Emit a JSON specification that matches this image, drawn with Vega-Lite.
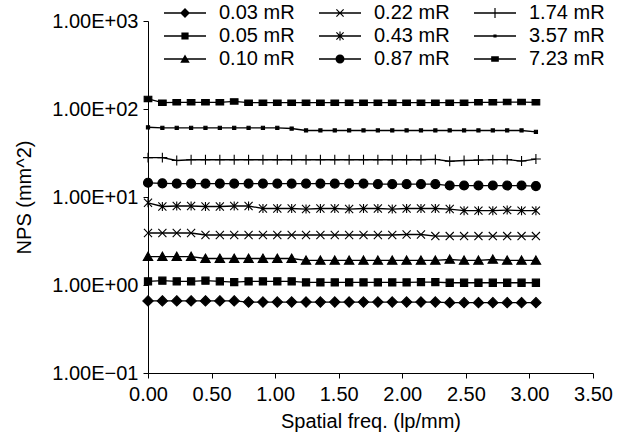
{
  "$schema": "https://vega.github.io/schema/vega-lite/v6.json",
  "width": 445,
  "height": 352,
  "autosize": {"type": "none"},
  "padding": {"left": 148, "top": 21, "right": 25, "bottom": 70},
  "background": "white",
  "config": {
    "view": {"stroke": null},
    "font": "Liberation Sans",
    "axis": {
      "grid": false,
      "domainColor": "black",
      "domainWidth": 1,
      "tickColor": "black",
      "tickWidth": 1,
      "tickSize": 5,
      "labelColor": "black",
      "labelFont": "Liberation Sans",
      "labelFontSize": 20,
      "titleColor": "black",
      "titleFont": "Liberation Sans",
      "titleFontSize": 20,
      "titleFontWeight": "normal",
      "labelFlush": false,
      "labelOverlap": false
    }
  },
  "data": {
    "values": [
      {"s":"0.03 mR","f":0,"v":0.66},{"s":"0.03 mR","f":0.113,"v":0.66},{"s":"0.03 mR","f":0.226,"v":0.66},{"s":"0.03 mR","f":0.339,"v":0.66},{"s":"0.03 mR","f":0.452,"v":0.66},{"s":"0.03 mR","f":0.565,"v":0.66},{"s":"0.03 mR","f":0.678,"v":0.66},{"s":"0.03 mR","f":0.791,"v":0.64},{"s":"0.03 mR","f":0.904,"v":0.64},{"s":"0.03 mR","f":1.017,"v":0.64},{"s":"0.03 mR","f":1.13,"v":0.64},{"s":"0.03 mR","f":1.243,"v":0.64},{"s":"0.03 mR","f":1.356,"v":0.64},{"s":"0.03 mR","f":1.469,"v":0.64},{"s":"0.03 mR","f":1.582,"v":0.64},{"s":"0.03 mR","f":1.695,"v":0.64},{"s":"0.03 mR","f":1.808,"v":0.64},{"s":"0.03 mR","f":1.921,"v":0.64},{"s":"0.03 mR","f":2.034,"v":0.64},{"s":"0.03 mR","f":2.147,"v":0.64},{"s":"0.03 mR","f":2.26,"v":0.64},{"s":"0.03 mR","f":2.373,"v":0.63},{"s":"0.03 mR","f":2.486,"v":0.63},{"s":"0.03 mR","f":2.599,"v":0.63},{"s":"0.03 mR","f":2.712,"v":0.63},{"s":"0.03 mR","f":2.825,"v":0.63},{"s":"0.03 mR","f":2.938,"v":0.63},{"s":"0.03 mR","f":3.051,"v":0.63},
      {"s":"0.05 mR","f":0,"v":1.1},{"s":"0.05 mR","f":0.113,"v":1.12},{"s":"0.05 mR","f":0.226,"v":1.1},{"s":"0.05 mR","f":0.339,"v":1.1},{"s":"0.05 mR","f":0.452,"v":1.12},{"s":"0.05 mR","f":0.565,"v":1.1},{"s":"0.05 mR","f":0.678,"v":1.08},{"s":"0.05 mR","f":0.791,"v":1.1},{"s":"0.05 mR","f":0.904,"v":1.1},{"s":"0.05 mR","f":1.017,"v":1.1},{"s":"0.05 mR","f":1.13,"v":1.1},{"s":"0.05 mR","f":1.243,"v":1.07},{"s":"0.05 mR","f":1.356,"v":1.07},{"s":"0.05 mR","f":1.469,"v":1.07},{"s":"0.05 mR","f":1.582,"v":1.07},{"s":"0.05 mR","f":1.695,"v":1.07},{"s":"0.05 mR","f":1.808,"v":1.07},{"s":"0.05 mR","f":1.921,"v":1.07},{"s":"0.05 mR","f":2.034,"v":1.07},{"s":"0.05 mR","f":2.147,"v":1.08},{"s":"0.05 mR","f":2.26,"v":1.08},{"s":"0.05 mR","f":2.373,"v":1.06},{"s":"0.05 mR","f":2.486,"v":1.06},{"s":"0.05 mR","f":2.599,"v":1.06},{"s":"0.05 mR","f":2.712,"v":1.06},{"s":"0.05 mR","f":2.825,"v":1.06},{"s":"0.05 mR","f":2.938,"v":1.06},{"s":"0.05 mR","f":3.051,"v":1.06},
      {"s":"0.10 mR","f":0,"v":2.1},{"s":"0.10 mR","f":0.113,"v":2.1},{"s":"0.10 mR","f":0.226,"v":2.1},{"s":"0.10 mR","f":0.339,"v":2.1},{"s":"0.10 mR","f":0.452,"v":2.0},{"s":"0.10 mR","f":0.565,"v":2.0},{"s":"0.10 mR","f":0.678,"v":2.0},{"s":"0.10 mR","f":0.791,"v":2.0},{"s":"0.10 mR","f":0.904,"v":2.0},{"s":"0.10 mR","f":1.017,"v":2.0},{"s":"0.10 mR","f":1.13,"v":2.0},{"s":"0.10 mR","f":1.243,"v":1.9},{"s":"0.10 mR","f":1.356,"v":1.9},{"s":"0.10 mR","f":1.469,"v":1.9},{"s":"0.10 mR","f":1.582,"v":1.9},{"s":"0.10 mR","f":1.695,"v":1.9},{"s":"0.10 mR","f":1.808,"v":1.9},{"s":"0.10 mR","f":1.921,"v":1.9},{"s":"0.10 mR","f":2.034,"v":1.9},{"s":"0.10 mR","f":2.147,"v":1.9},{"s":"0.10 mR","f":2.26,"v":1.9},{"s":"0.10 mR","f":2.373,"v":1.95},{"s":"0.10 mR","f":2.486,"v":1.9},{"s":"0.10 mR","f":2.599,"v":1.9},{"s":"0.10 mR","f":2.712,"v":1.95},{"s":"0.10 mR","f":2.825,"v":1.9},{"s":"0.10 mR","f":2.938,"v":1.9},{"s":"0.10 mR","f":3.051,"v":1.9},
      {"s":"0.22 mR","f":0,"v":3.9},{"s":"0.22 mR","f":0.113,"v":3.9},{"s":"0.22 mR","f":0.226,"v":3.9},{"s":"0.22 mR","f":0.339,"v":3.9},{"s":"0.22 mR","f":0.452,"v":3.7},{"s":"0.22 mR","f":0.565,"v":3.7},{"s":"0.22 mR","f":0.678,"v":3.7},{"s":"0.22 mR","f":0.791,"v":3.7},{"s":"0.22 mR","f":0.904,"v":3.7},{"s":"0.22 mR","f":1.017,"v":3.7},{"s":"0.22 mR","f":1.13,"v":3.7},{"s":"0.22 mR","f":1.243,"v":3.7},{"s":"0.22 mR","f":1.356,"v":3.7},{"s":"0.22 mR","f":1.469,"v":3.7},{"s":"0.22 mR","f":1.582,"v":3.7},{"s":"0.22 mR","f":1.695,"v":3.7},{"s":"0.22 mR","f":1.808,"v":3.7},{"s":"0.22 mR","f":1.921,"v":3.7},{"s":"0.22 mR","f":2.034,"v":3.75},{"s":"0.22 mR","f":2.147,"v":3.75},{"s":"0.22 mR","f":2.26,"v":3.6},{"s":"0.22 mR","f":2.373,"v":3.6},{"s":"0.22 mR","f":2.486,"v":3.6},{"s":"0.22 mR","f":2.599,"v":3.6},{"s":"0.22 mR","f":2.712,"v":3.6},{"s":"0.22 mR","f":2.825,"v":3.6},{"s":"0.22 mR","f":2.938,"v":3.6},{"s":"0.22 mR","f":3.051,"v":3.6},
      {"s":"0.43 mR","f":0,"v":8.6},{"s":"0.43 mR","f":0.113,"v":7.8},{"s":"0.43 mR","f":0.226,"v":7.9},{"s":"0.43 mR","f":0.339,"v":7.9},{"s":"0.43 mR","f":0.452,"v":7.8},{"s":"0.43 mR","f":0.565,"v":7.8},{"s":"0.43 mR","f":0.678,"v":7.9},{"s":"0.43 mR","f":0.791,"v":7.9},{"s":"0.43 mR","f":0.904,"v":7.4},{"s":"0.43 mR","f":1.017,"v":7.4},{"s":"0.43 mR","f":1.13,"v":7.4},{"s":"0.43 mR","f":1.243,"v":7.3},{"s":"0.43 mR","f":1.356,"v":7.4},{"s":"0.43 mR","f":1.469,"v":7.4},{"s":"0.43 mR","f":1.582,"v":7.3},{"s":"0.43 mR","f":1.695,"v":7.4},{"s":"0.43 mR","f":1.808,"v":7.4},{"s":"0.43 mR","f":1.921,"v":7.3},{"s":"0.43 mR","f":2.034,"v":7.4},{"s":"0.43 mR","f":2.147,"v":7.4},{"s":"0.43 mR","f":2.26,"v":7.4},{"s":"0.43 mR","f":2.373,"v":7.3},{"s":"0.43 mR","f":2.486,"v":7.0},{"s":"0.43 mR","f":2.599,"v":7.0},{"s":"0.43 mR","f":2.712,"v":7.0},{"s":"0.43 mR","f":2.825,"v":7.1},{"s":"0.43 mR","f":2.938,"v":7.0},{"s":"0.43 mR","f":3.051,"v":7.0},
      {"s":"0.87 mR","f":0,"v":14.5},{"s":"0.87 mR","f":0.113,"v":14.3},{"s":"0.87 mR","f":0.226,"v":14.2},{"s":"0.87 mR","f":0.339,"v":14.2},{"s":"0.87 mR","f":0.452,"v":14.2},{"s":"0.87 mR","f":0.565,"v":14.2},{"s":"0.87 mR","f":0.678,"v":14.2},{"s":"0.87 mR","f":0.791,"v":14.2},{"s":"0.87 mR","f":0.904,"v":14.2},{"s":"0.87 mR","f":1.017,"v":14.2},{"s":"0.87 mR","f":1.13,"v":14.2},{"s":"0.87 mR","f":1.243,"v":14.2},{"s":"0.87 mR","f":1.356,"v":14.2},{"s":"0.87 mR","f":1.469,"v":14.2},{"s":"0.87 mR","f":1.582,"v":14.2},{"s":"0.87 mR","f":1.695,"v":14.2},{"s":"0.87 mR","f":1.808,"v":14.0},{"s":"0.87 mR","f":1.921,"v":14.0},{"s":"0.87 mR","f":2.034,"v":14.0},{"s":"0.87 mR","f":2.147,"v":14.0},{"s":"0.87 mR","f":2.26,"v":14.0},{"s":"0.87 mR","f":2.373,"v":13.5},{"s":"0.87 mR","f":2.486,"v":13.5},{"s":"0.87 mR","f":2.599,"v":13.5},{"s":"0.87 mR","f":2.712,"v":13.5},{"s":"0.87 mR","f":2.825,"v":13.5},{"s":"0.87 mR","f":2.938,"v":13.5},{"s":"0.87 mR","f":3.051,"v":13.3},
      {"s":"1.74 mR","f":0,"v":28.0},{"s":"1.74 mR","f":0.113,"v":28.0},{"s":"1.74 mR","f":0.226,"v":26.0},{"s":"1.74 mR","f":0.339,"v":26.5},{"s":"1.74 mR","f":0.452,"v":26.5},{"s":"1.74 mR","f":0.565,"v":26.5},{"s":"1.74 mR","f":0.678,"v":26.5},{"s":"1.74 mR","f":0.791,"v":26.5},{"s":"1.74 mR","f":0.904,"v":26.5},{"s":"1.74 mR","f":1.017,"v":26.5},{"s":"1.74 mR","f":1.13,"v":26.5},{"s":"1.74 mR","f":1.243,"v":26.5},{"s":"1.74 mR","f":1.356,"v":26.5},{"s":"1.74 mR","f":1.469,"v":26.5},{"s":"1.74 mR","f":1.582,"v":26.5},{"s":"1.74 mR","f":1.695,"v":26.5},{"s":"1.74 mR","f":1.808,"v":26.5},{"s":"1.74 mR","f":1.921,"v":26.5},{"s":"1.74 mR","f":2.034,"v":26.5},{"s":"1.74 mR","f":2.147,"v":26.5},{"s":"1.74 mR","f":2.26,"v":26.7},{"s":"1.74 mR","f":2.373,"v":25.5},{"s":"1.74 mR","f":2.486,"v":26.0},{"s":"1.74 mR","f":2.599,"v":26.3},{"s":"1.74 mR","f":2.712,"v":26.6},{"s":"1.74 mR","f":2.825,"v":26.6},{"s":"1.74 mR","f":2.938,"v":25.6},{"s":"1.74 mR","f":3.051,"v":27.0},
      {"s":"3.57 mR","f":0,"v":62},{"s":"3.57 mR","f":0.113,"v":61},{"s":"3.57 mR","f":0.226,"v":61},{"s":"3.57 mR","f":0.339,"v":61},{"s":"3.57 mR","f":0.452,"v":61},{"s":"3.57 mR","f":0.565,"v":61},{"s":"3.57 mR","f":0.678,"v":61},{"s":"3.57 mR","f":0.791,"v":61},{"s":"3.57 mR","f":0.904,"v":61},{"s":"3.57 mR","f":1.017,"v":61},{"s":"3.57 mR","f":1.13,"v":60},{"s":"3.57 mR","f":1.243,"v":57},{"s":"3.57 mR","f":1.356,"v":57},{"s":"3.57 mR","f":1.469,"v":57},{"s":"3.57 mR","f":1.582,"v":57},{"s":"3.57 mR","f":1.695,"v":57},{"s":"3.57 mR","f":1.808,"v":57},{"s":"3.57 mR","f":1.921,"v":57},{"s":"3.57 mR","f":2.034,"v":57},{"s":"3.57 mR","f":2.147,"v":57},{"s":"3.57 mR","f":2.26,"v":57},{"s":"3.57 mR","f":2.373,"v":57},{"s":"3.57 mR","f":2.486,"v":57},{"s":"3.57 mR","f":2.599,"v":57},{"s":"3.57 mR","f":2.712,"v":57},{"s":"3.57 mR","f":2.825,"v":57},{"s":"3.57 mR","f":2.938,"v":57},{"s":"3.57 mR","f":3.051,"v":55},
      {"s":"7.23 mR","f":0,"v":130},{"s":"7.23 mR","f":0.113,"v":118},{"s":"7.23 mR","f":0.226,"v":119},{"s":"7.23 mR","f":0.339,"v":119},{"s":"7.23 mR","f":0.452,"v":119},{"s":"7.23 mR","f":0.565,"v":119},{"s":"7.23 mR","f":0.678,"v":122},{"s":"7.23 mR","f":0.791,"v":118},{"s":"7.23 mR","f":0.904,"v":118},{"s":"7.23 mR","f":1.017,"v":118},{"s":"7.23 mR","f":1.13,"v":118},{"s":"7.23 mR","f":1.243,"v":118},{"s":"7.23 mR","f":1.356,"v":118},{"s":"7.23 mR","f":1.469,"v":118},{"s":"7.23 mR","f":1.582,"v":118},{"s":"7.23 mR","f":1.695,"v":118},{"s":"7.23 mR","f":1.808,"v":118},{"s":"7.23 mR","f":1.921,"v":118},{"s":"7.23 mR","f":2.034,"v":118},{"s":"7.23 mR","f":2.147,"v":118},{"s":"7.23 mR","f":2.26,"v":118},{"s":"7.23 mR","f":2.373,"v":118},{"s":"7.23 mR","f":2.486,"v":118},{"s":"7.23 mR","f":2.599,"v":119},{"s":"7.23 mR","f":2.712,"v":119},{"s":"7.23 mR","f":2.825,"v":120},{"s":"7.23 mR","f":2.938,"v":120},{"s":"7.23 mR","f":3.051,"v":119}
    ]
  },
  "encoding": {
    "x": {
      "field": "f",
      "type": "quantitative",
      "scale": {"domain": [0, 3.5], "nice": false, "zero": false},
      "axis": {
        "title": "Spatial freq. (lp/mm)",
        "values": [0, 0.5, 1, 1.5, 2, 2.5, 3, 3.5],
        "format": ".2f",
        "labelPadding": 6,
        "titlePadding": 7
      }
    },
    "y": {
      "field": "v",
      "type": "quantitative",
      "scale": {"type": "log", "domain": [0.1, 1000], "nice": false},
      "axis": {
        "title": "NPS (mm^2)",
        "values": [0.1, 1, 10, 100, 1000],
        "labelExpr": "datum.value >= 999 ? '1.00E+03' : datum.value >= 99 ? '1.00E+02' : datum.value >= 9 ? '1.00E+01' : datum.value >= 0.9 ? '1.00E+00' : '1.00E\u221201'",
        "labelPadding": 5,
        "titlePadding": 17
      }
    }
  },
  "layer": [
    {
      "mark": {"type": "line", "color": "black", "strokeWidth": 1.3},
      "encoding": {"detail": {"field": "s"}}
    },
    {
      "mark": {"type": "point", "filled": true, "color": "black", "stroke": "black", "strokeWidth": 1.1, "size": 81, "opacity": 1},
      "encoding": {
        "shape": {
          "field": "s",
          "scale": {
            "domain": ["0.03 mR", "0.05 mR", "0.10 mR", "0.22 mR", "0.43 mR", "0.87 mR", "1.74 mR", "3.57 mR", "7.23 mR"],
            "range": [
              "M0,-1.15L1.15,0L0,1.15L-1.15,0Z",
              "M-0.8,-0.8L0.8,-0.8L0.8,0.8L-0.8,0.8Z",
              "M0,-1L1.05,0.85L-1.05,0.85Z",
              "M-0.9,-0.9L0.9,0.9M-0.9,0.9L0.9,-0.9",
              "M-0.9,-0.9L0.9,0.9M-0.9,0.9L0.9,-0.9M0,-1L0,1",
              "M-1,0A1,1,0,1,0,1,0A1,1,0,1,0,-1,0Z",
              "M-1.1,0L1.1,0M0,-1.1L0,1.1",
              "M-0.35,-0.35L0.35,-0.35L0.35,0.35L-0.35,0.35Z",
              "M-0.85,-0.6L0.85,-0.6L0.85,0.6L-0.85,0.6Z"
            ]
          },
          "legend": null
        }
      }
    },
    {
      "transform": [{"filter": "datum.f < -1"}],
      "mark": {"type": "point", "filled": true, "color": "black", "size": 81, "opacity": 1},
      "encoding": {
        "shape": {
          "field": "s",
          "scale": {
            "domain": ["0.03 mR", "0.05 mR", "0.10 mR", "0.22 mR", "0.43 mR", "0.87 mR", "1.74 mR", "3.57 mR", "7.23 mR"],
            "range": [
              "M-4.67,-0.14L4.67,-0.14L4.67,0.14L-4.67,0.14ZM0,-1.1L1.1,0L0,1.1L-1.1,0Z",
              "M-4.67,-0.14L4.67,-0.14L4.67,0.14L-4.67,0.14ZM-0.8,-0.8L0.8,-0.8L0.8,0.8L-0.8,0.8Z",
              "M-4.67,-0.14L4.67,-0.14L4.67,0.14L-4.67,0.14ZM0,-1L1.05,0.85L-1.05,0.85Z",
              "M-4.67,-0.14L4.67,-0.14L4.67,0.14L-4.67,0.14ZM-0.708,-0.892L0.892,0.708L0.708,0.892L-0.892,-0.708ZM-0.892,0.708L0.708,-0.892L0.892,-0.708L-0.708,0.892Z",
              "M-4.67,-0.14L4.67,-0.14L4.67,0.14L-4.67,0.14ZM-0.708,-0.892L0.892,0.708L0.708,0.892L-0.892,-0.708ZM-0.892,0.708L0.708,-0.892L0.892,-0.708L-0.708,0.892ZM-0.13,-1L0.13,-1L0.13,1L-0.13,1Z",
              "M-4.67,-0.14L4.67,-0.14L4.67,0.14L-4.67,0.14ZM-1,0A1,1,0,1,1,1,0A1,1,0,1,1,-1,0Z",
              "M-4.67,-0.14L4.67,-0.14L4.67,0.14L-4.67,0.14ZM-0.13,-1.1L0.13,-1.1L0.13,1.1L-0.13,1.1Z",
              "M-4.67,-0.14L4.67,-0.14L4.67,0.14L-4.67,0.14ZM-0.35,-0.35L0.35,-0.35L0.35,0.35L-0.35,0.35Z",
              "M-4.67,-0.14L4.67,-0.14L4.67,0.14L-4.67,0.14ZM-0.85,-0.6L0.85,-0.6L0.85,0.6L-0.85,0.6Z"
            ]
          },
          "legend": {
            "title": null,
            "orient": "none",
            "legendX": 27,
            "legendY": -18,
            "columns": 3,
            "labelFont": "Liberation Sans",
            "labelFontSize": 20,
            "labelColor": "black",
            "labelOffset": 24,
            "rowPadding": 3,
            "columnPadding": 20,
            "symbolSize": 81,
            "symbolFillColor": "black",
            "symbolOpacity": 1
          }
        }
      }
    }
  ],
  "resolve": {"scale": {"shape": "independent"}, "legend": {"shape": "independent"}}
}
